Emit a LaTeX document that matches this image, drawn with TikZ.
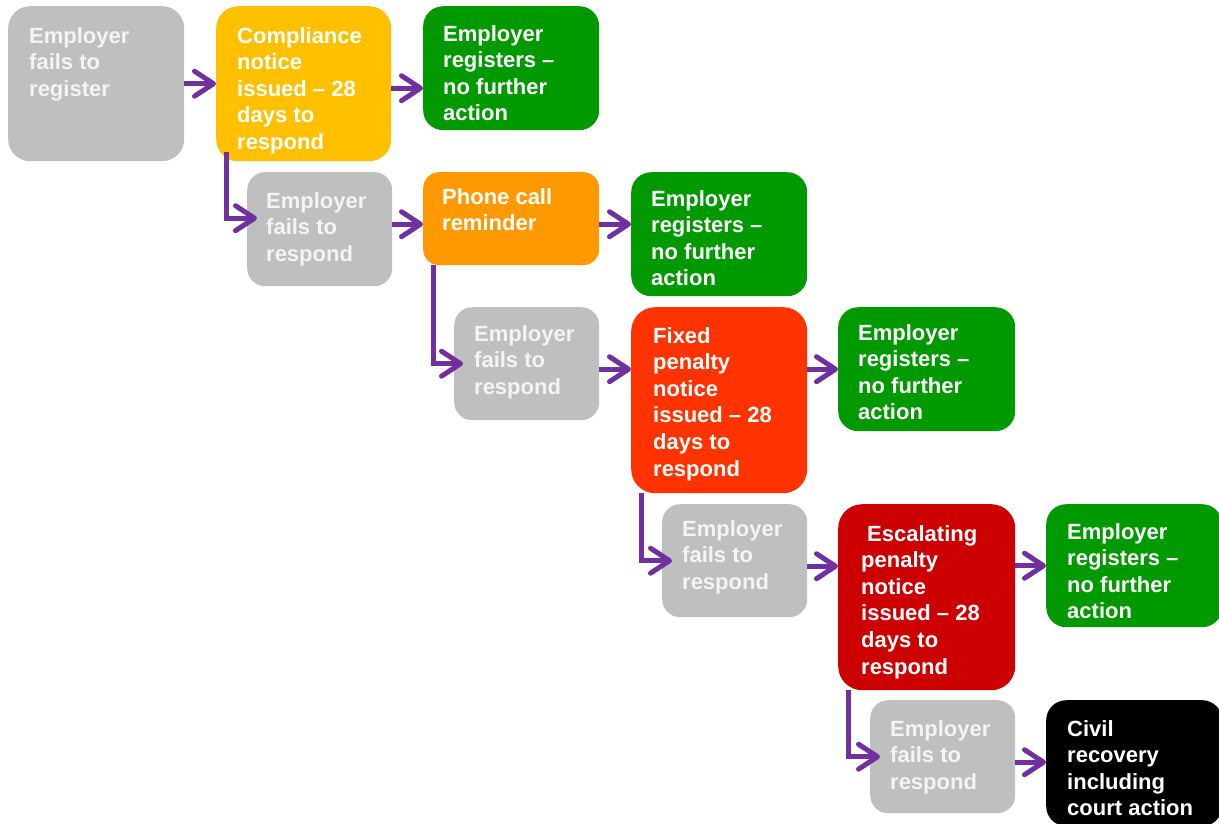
\documentclass[tikz,border=0pt]{standalone}
\usepackage{fontspec}
\setmainfont{Liberation Sans}
\usetikzlibrary{arrows.meta}
\definecolor{cgray}{HTML}{BFBFBF}
\definecolor{cgraytxt}{HTML}{F4F4F4}
\definecolor{cyellow}{HTML}{FFC000}
\definecolor{corange}{HTML}{FF9900}
\definecolor{cgreen}{HTML}{009900}
\definecolor{cred}{HTML}{FF3300}
\definecolor{cdred}{HTML}{CC0000}
\definecolor{cpurple}{HTML}{7030A0}
\tikzset{
  box/.style={draw=none, rounded corners=20pt, anchor=north west, inner sep=0pt},
  txt/.style={anchor=north west, inner sep=0pt, align=left, text=white,
    font=\fontsize{22}{26.6}\selectfont\bfseries},
  gtxt/.style={txt, text=cgraytxt},
  conn/.style={draw=cpurple, line width=5pt,
    -{Straight Barb[round, length=19pt, width=25pt]}}
}
\begin{document}
\begin{tikzpicture}[x=1pt,y=-1pt]
\useasboundingbox (0,0) rectangle (1219,823);
% boxes
\node[box, fill=cgray,   minimum width=176pt, minimum height=155pt, rounded corners=22pt] (b1)  at (8,6) {};
\node[box, fill=cyellow, minimum width=175pt, minimum height=155pt, rounded corners=22pt] (b2)  at (216,6) {};
\node[box, fill=cgreen,  minimum width=176pt, minimum height=124pt] (b3)  at (423,6) {};
\node[box, fill=cgray,   minimum width=145pt, minimum height=114pt, rounded corners=18pt] (b4)  at (247,172) {};
\node[box, fill=corange, minimum width=176pt, minimum height=93pt, rounded corners=16pt]  (b5)  at (423,172) {};
\node[box, fill=cgreen,  minimum width=176pt, minimum height=124pt] (b6)  at (631,172) {};
\node[box, fill=cgray,   minimum width=145pt, minimum height=113pt, rounded corners=18pt] (b7)  at (454,307) {};
\node[box, fill=cred,    minimum width=176pt, minimum height=186pt, rounded corners=24pt] (b8)  at (631,307) {};
\node[box, fill=cgreen,  minimum width=177pt, minimum height=124pt] (b9)  at (838,307) {};
\node[box, fill=cgray,   minimum width=145pt, minimum height=113pt, rounded corners=18pt] (b10) at (662,504) {};
\node[box, fill=cdred,   minimum width=177pt, minimum height=186pt, rounded corners=24pt] (b11) at (838,504) {};
\node[box, fill=cgreen,  minimum width=176pt, minimum height=123pt] (b12) at (1046,504) {};
\node[box, fill=cgray,   minimum width=145pt, minimum height=113pt, rounded corners=18pt] (b13) at (870,700) {};
\node[box, fill=black,   minimum width=176pt, minimum height=126pt] (b14) at (1046,700) {};
% texts
\node[gtxt] (t1)  at ([shift={(21,21)}]b1.north west)  {Employer\\fails to\\register};
\node[txt]  (t2)  at ([shift={(21,21)}]b2.north west)  {Compliance\\notice\\issued -- 28\\days to\\respond};
\node[txt]  (t3)  at ([shift={(20,19)}]b3.north west)  {Employer\\registers --\\no further\\action};
\node[gtxt] (t4)  at ([shift={(19,20)}]b4.north west)  {Employer\\fails to\\respond};
\node[txt]  (t5)  at ([shift={(19,16)}]b5.north west)  {Phone call\\reminder};
\node[txt]  (t6)  at ([shift={(20,18)}]b6.north west)  {Employer\\registers --\\no further\\action};
\node[gtxt] (t7)  at ([shift={(20,18)}]b7.north west)  {Employer\\fails to\\respond};
\node[txt]  (t8)  at ([shift={(22,20)}]b8.north west)  {Fixed\\penalty\\notice\\issued -- 28\\days to\\respond};
\node[txt]  (t9)  at ([shift={(20,17)}]b9.north west)  {Employer\\registers --\\no further\\action};
\node[gtxt] (t10) at ([shift={(20,16)}]b10.north west) {Employer\\fails to\\respond};
\node[txt]  (t11) at ([shift={(23,21)}]b11.north west) {\hspace{6pt}Escalating\\penalty\\notice\\issued -- 28\\days to\\respond};
\node[txt]  (t12) at ([shift={(21,19)}]b12.north west) {Employer\\registers --\\no further\\action};
\node[gtxt] (t13) at ([shift={(20,20)}]b13.north west) {Employer\\fails to\\respond};
\node[txt]  (t14) at ([shift={(21,20)}]b14.north west) {Civil\\recovery\\including\\court action};
% connectors
\draw[conn] (b1.east) -- (b2.west);
\draw[conn] ([yshift=-4.5pt]b2.east) -- ([yshift=-4.5pt]b2.east -| b3.west);
\draw[conn] ([shift={(10,-9)}]b2.south west) |- ([shift={(10,-11)}]b4.west);
\draw[conn] ([yshift=5pt]b4.east) -- ([yshift=5pt]b4.east -| b5.west);
\draw[conn] ([yshift=-5.5pt]b5.east) -- ([yshift=-5.5pt]b5.east -| b6.west);
\draw[conn] ([xshift=10pt]b5.south west) |- ([xshift=9pt]b7.west);
\draw[conn] ([yshift=-5.5pt]b7.east) -- ([yshift=-5.5pt]b7.east -| b8.west);
\draw[conn] (b9.west -| b8.east) -- (b9.west);
\draw[conn] ([xshift=10pt]b8.south west) |- ([xshift=10pt]b10.west);
\draw[conn] ([yshift=-5.5pt]b10.east) -- ([yshift=-5.5pt]b10.east -| b11.west);
\draw[conn] (b12.west -| b11.east) -- (b12.west);
\draw[conn] ([xshift=10pt]b11.south west) |- ([xshift=10pt]b13.west);
\draw[conn] ([yshift=-5.5pt]b13.east) -- ([yshift=-5.5pt]b13.east -| b14.west);
\end{tikzpicture}
\end{document}
